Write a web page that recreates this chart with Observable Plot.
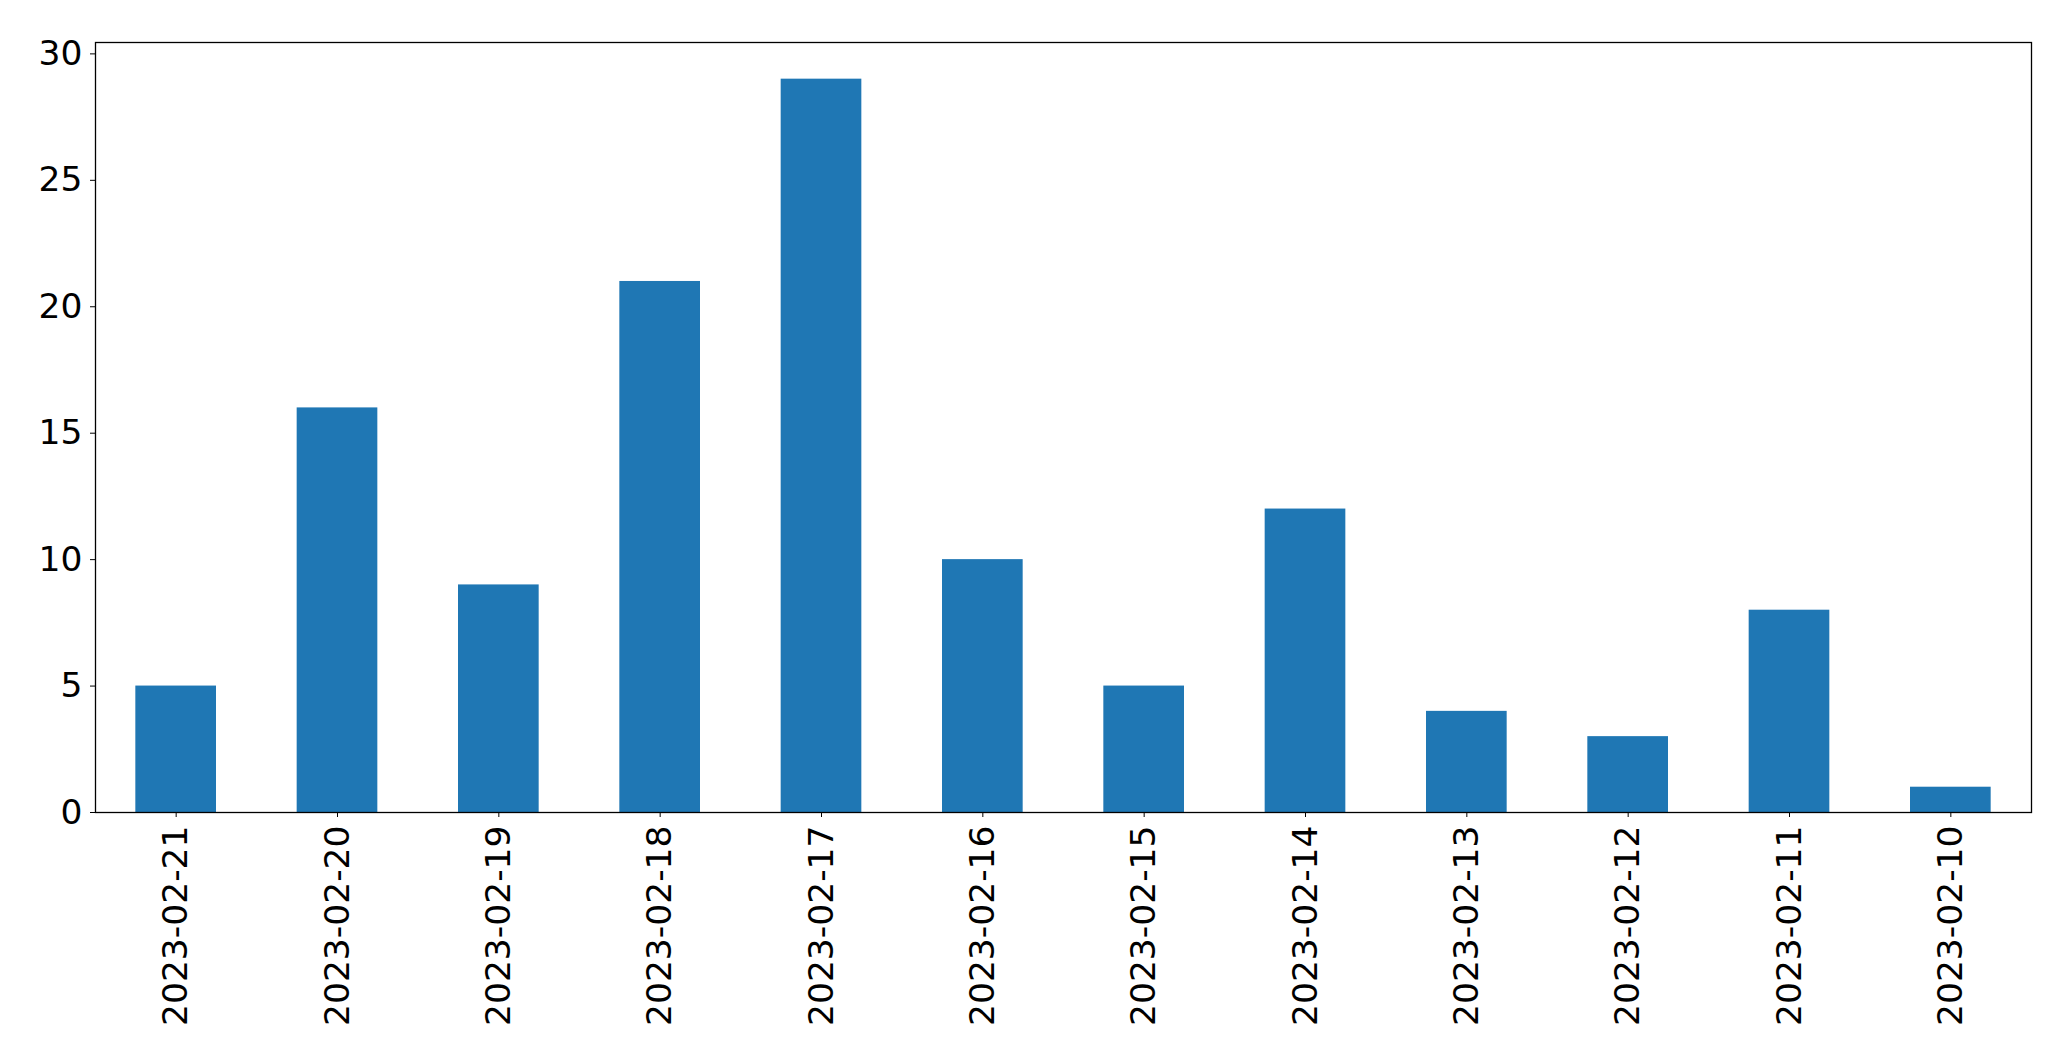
<!DOCTYPE html>
<html>
<head>
<meta charset="utf-8">
<script src="https://cdn.jsdelivr.net/npm/d3@7"></script>
<script src="https://cdn.jsdelivr.net/npm/@observablehq/plot@0.6"></script>
<style>
  html, body { margin: 0; padding: 0; background: #fff; }
  #chart svg { display: block; }
</style>
</head>
<body>
<div id="chart"></div>
<script>
const dates = ["2023-02-21","2023-02-20","2023-02-19","2023-02-18","2023-02-17","2023-02-16","2023-02-15","2023-02-14","2023-02-13","2023-02-12","2023-02-11","2023-02-10"];
const counts = [5, 16, 9, 21, 29, 10, 5, 12, 4, 3, 8, 1];
const yTicks = [0, 5, 10, 15, 20, 25, 30];

const data = dates.map((d, i) => ({date: d, count: counts[i]}));

const chart = Plot.plot({
  width: 2071,
  height: 1064,
  marginLeft: 95,
  marginRight: 40,
  marginTop: 42,
  marginBottom: 252,
  style: {fontFamily: "'DejaVu Sans', sans-serif", fontSize: "34.5px", color: "#000", background: "#fff", overflow: "visible"},
  x: {domain: dates, paddingInner: 0.5, paddingOuter: 0.25, round: false, label: null},
  y: {domain: [0, 30.45], label: null},
  marks: [
    Plot.barY(data, {x: "date", y: "count", fill: "#1f77b4"}),
    Plot.axisX({tickRotate: -90, tickSize: 5, tickPadding: 8, fontSize: 34.5, label: null, stroke: "#000"}),
    Plot.axisY({ticks: yTicks, tickSize: 5, tickPadding: 8, fontSize: 34.5, label: null, stroke: "#000"}),
    Plot.frame({stroke: "#000", strokeWidth: 1.3})
  ]
});
document.getElementById("chart").appendChild(chart);
</script>
</body>
</html>
